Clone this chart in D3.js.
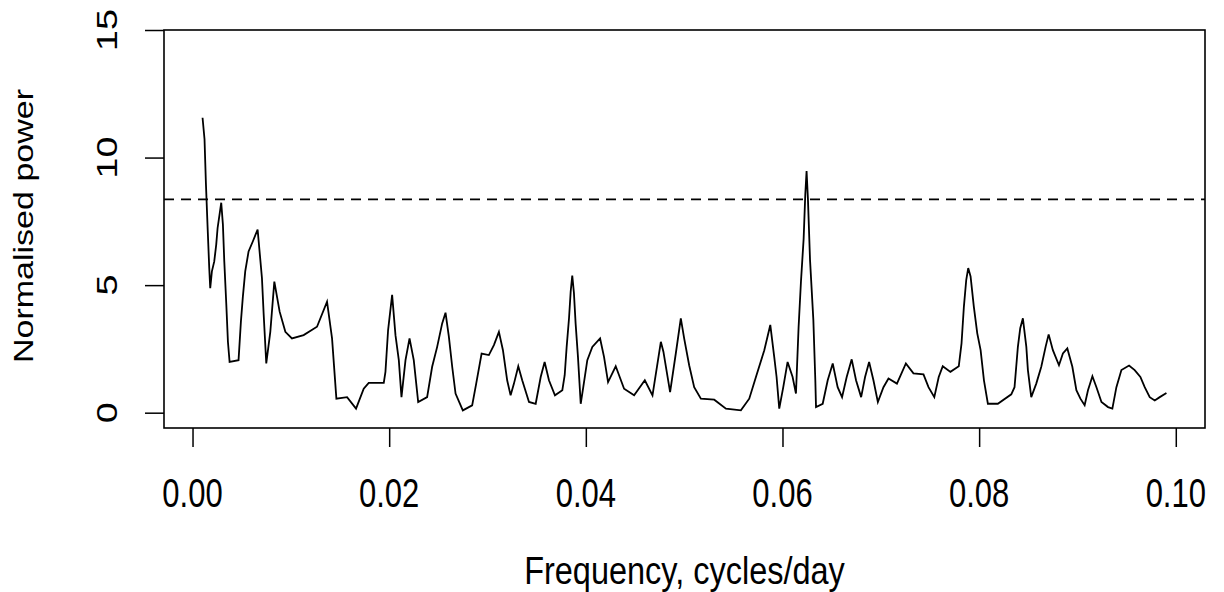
<!DOCTYPE html>
<html>
<head>
<meta charset="utf-8">
<script src="https://cdn.jsdelivr.net/npm/d3@7"></script>
<style>
    body { margin: 0; background: #fff; }
    text { font-family: "Liberation Sans", Arial, sans-serif; fill: #000; }
</style>
</head>
<body>
<div id="chart"></div>
<script>

// periodogram values
const freq = [
    0.00102, 0.00122, 0.00136, 0.00153, 0.00170, 0.00180, 0.00197, 0.00221, 0.00241, 0.00255,
    0.00275, 0.00292, 0.00309, 0.00323, 0.00343, 0.00360, 0.00377, 0.00468, 0.00492, 0.00512,
    0.00536, 0.00570, 0.00614, 0.00662, 0.00706, 0.00723, 0.00750, 0.00791, 0.00832, 0.00886,
    0.00944, 0.01011, 0.01130, 0.01266, 0.01368, 0.01419, 0.01463, 0.01572, 0.01663, 0.01741,
    0.01792, 0.01945, 0.01962, 0.01989, 0.02030, 0.02064, 0.02098, 0.02125, 0.02166, 0.02207,
    0.02250, 0.02295, 0.02386, 0.02437, 0.02488, 0.02539, 0.02573, 0.02607, 0.02641, 0.02675,
    0.02749, 0.02844, 0.02885, 0.02940, 0.03014, 0.03065, 0.03116, 0.03157, 0.03200, 0.03235,
    0.03269, 0.03313, 0.03353, 0.03422, 0.03490, 0.03541, 0.03581, 0.03625, 0.03686, 0.03761,
    0.03785, 0.03805, 0.03829, 0.03846, 0.03862, 0.03879, 0.03896, 0.03920, 0.03948, 0.03974,
    0.04015, 0.04066, 0.04145, 0.04185, 0.04226, 0.04304, 0.04389, 0.04491, 0.04600, 0.04678,
    0.04763, 0.04789, 0.04857, 0.04915, 0.04966, 0.05000, 0.05051, 0.05102, 0.05170, 0.05306,
    0.05425, 0.05577, 0.05662, 0.05730, 0.05815, 0.05876, 0.05916, 0.05940, 0.05967, 0.06008,
    0.06052, 0.06103, 0.06137, 0.06164, 0.06188, 0.06215, 0.06232, 0.06245, 0.06259, 0.06280,
    0.06314, 0.06334, 0.06341, 0.06409, 0.06460, 0.06511, 0.06561, 0.06606, 0.06653, 0.06704,
    0.06748, 0.06800, 0.06840, 0.06881, 0.06925, 0.06970, 0.07027, 0.07078, 0.07164, 0.07255,
    0.07332, 0.07434, 0.07485, 0.07544, 0.07589, 0.07630, 0.07708, 0.07793, 0.07821, 0.07845,
    0.07869, 0.07889, 0.07913, 0.07946, 0.07981, 0.08015, 0.08049, 0.08089, 0.08190, 0.08327,
    0.08360, 0.08394, 0.08418, 0.08445, 0.08480, 0.08496, 0.08530, 0.08581, 0.08632, 0.08676,
    0.08707, 0.08750, 0.08812, 0.08852, 0.08897, 0.08948, 0.08989, 0.09030, 0.09073, 0.09107,
    0.09152, 0.09193, 0.09244, 0.09311, 0.09355, 0.09396, 0.09447, 0.09525, 0.09582, 0.09640,
    0.09684, 0.09735, 0.09786, 0.09837, 0.09905
];
const power = [
    11.56, 10.72, 9.00, 7.30, 5.67, 4.88, 5.54, 5.93, 6.59, 7.24,
    7.77, 8.23, 7.37, 5.93, 4.29, 2.78, 1.99, 2.06, 3.57, 4.55,
    5.54, 6.32, 6.72, 7.18, 5.28, 3.90, 1.93, 3.17, 5.14, 3.96,
    3.17, 2.91, 3.04, 3.37, 4.35, 2.91, 0.55, 0.61, 0.16, 0.94,
    1.17, 1.17, 1.60, 3.24, 4.62, 3.04, 2.06, 0.61, 2.06, 2.91,
    2.06, 0.42, 0.61, 1.80, 2.58, 3.50, 3.92, 2.98, 1.80, 0.75,
    0.09, 0.29, 1.14, 2.32, 2.26, 2.65, 3.17, 2.45, 1.27, 0.68,
    1.14, 1.82, 1.27, 0.42, 0.35, 1.40, 1.99, 1.27, 0.68, 0.88,
    1.47, 2.58, 3.70, 4.75, 5.37, 4.69, 3.50, 2.19, 0.35, 1.00,
    2.06, 2.58, 2.91, 2.19, 1.20, 1.82, 0.94, 0.68, 1.27, 0.68,
    2.78, 2.39, 0.81, 2.32, 3.70, 2.91, 1.86, 1.00, 0.55, 0.51,
    0.16, 0.09, 0.55, 1.40, 2.45, 3.44, 2.19, 1.40, 0.16, 1.00,
    1.99, 1.40, 0.75, 3.37, 5.14, 6.81, 8.56, 9.47, 8.36, 6.00,
    3.63, 1.27, 0.22, 0.35, 1.27, 1.93, 1.00, 0.61, 1.40, 2.09,
    1.27, 0.61, 1.40, 1.99, 1.27, 0.42, 1.00, 1.34, 1.14, 1.93,
    1.54, 1.50, 1.00, 0.61, 1.40, 1.82, 1.60, 1.82, 2.72, 4.16,
    5.21, 5.67, 5.34, 4.16, 3.11, 2.45, 1.27, 0.35, 0.35, 0.72,
    1.00, 2.58, 3.31, 3.70, 2.58, 1.67, 0.61, 1.14, 1.80, 2.58,
    3.07, 2.45, 1.86, 2.32, 2.52, 1.80, 0.88, 0.55, 0.29, 0.88,
    1.43, 1.00, 0.42, 0.22, 0.16, 1.00, 1.67, 1.85, 1.67, 1.40,
    1.00, 0.61, 0.48, 0.61, 0.77
];

// significance level (dashed line)
const threshold = 8.36;

const xTicks = [0, 0.02, 0.04, 0.06, 0.08, 0.10];
const yTicks = [0, 5, 10, 15];

const xLabel = "Frequency, cycles/day";
const yLabel = "Normalised power";

// margin conventions
let margin = {top: 30, right: 19, bottom: 164, left: 164};
let width = 1224 - margin.left - margin.right;
let height = 592 - margin.top - margin.bottom;

// text in the picture is stretched vertically
let textStyle = {
    xTick: {size: 31, stretch: 1.3},
    yTick: {size: 29, stretch: 1.3},
    xTitle: {size: 32.5, stretch: 1.2},
    yTitle: {size: 27, stretch: 1.26}
};

let svg = d3.select("#chart").append("svg")
    .attr("width", 1224)
    .attr("height", 592)
    .append("g")
    .attr("transform", "translate(" + margin.left + "," + margin.top + ")");

// R style 4% padding around the data range
let pad = (d3.max(freq) - d3.min(freq)) * 0.04;
let x = d3.scaleLinear()
    .domain([d3.min(freq) - pad, d3.max(freq) + pad])
    .range([0, width]);

let y = d3.scaleLinear()
    .domain([-0.6, 15])
    .range([height, 0]);

// x axis
let xAxis = svg.append("g")
    .attr("transform", "translate(0," + height + ")")
    .call(d3.axisBottom(x).tickValues(xTicks).tickSize(19).tickFormat(""));
xAxis.select(".domain").remove();
xAxis.selectAll("line").attr("stroke", "#000").attr("stroke-width", 1.5);

svg.selectAll(".xlab")
    .data(xTicks)
    .enter()
    .append("text")
    .attr("class", "xlab")
    .attr("transform", function(d) {
        return "translate(" + x(d) + "," + (height + 79) + ") scale(1," + textStyle.xTick.stretch + ")";
    })
    .attr("text-anchor", "middle")
    .style("font-size", textStyle.xTick.size + "px")
    .text(function(d) { return d3.format(".2f")(d); });

// y axis
let yAxis = svg.append("g")
    .call(d3.axisLeft(y).tickValues(yTicks).tickSize(19).tickFormat(""));
yAxis.select(".domain").remove();
yAxis.selectAll("line").attr("stroke", "#000").attr("stroke-width", 1.5);

svg.selectAll(".ylab")
    .data(yTicks)
    .enter()
    .append("text")
    .attr("class", "ylab")
    .attr("transform", function(d) {
        return "translate(-47," + y(d) + ") scale(1," + textStyle.yTick.stretch + ") rotate(-90)";
    })
    .attr("text-anchor", "middle")
    .style("font-size", textStyle.yTick.size + "px")
    .text(function(d) { return d; });

// axis titles
svg.append("text")
    .attr("transform", "translate(" + width / 2 + "," + (height + 156) + ") scale(1," + textStyle.xTitle.stretch + ")")
    .attr("text-anchor", "middle")
    .style("font-size", textStyle.xTitle.size + "px")
    .text(xLabel);

svg.append("text")
    .attr("transform", "translate(-131," + (height / 2 - 3) + ") scale(1," + textStyle.yTitle.stretch + ") rotate(-90)")
    .attr("text-anchor", "middle")
    .style("font-size", textStyle.yTitle.size + "px")
    .text(yLabel);

// threshold line
svg.append("line")
    .attr("x1", 0)
    .attr("x2", width)
    .attr("y1", y(threshold))
    .attr("y2", y(threshold))
    .attr("stroke", "#000")
    .attr("stroke-width", 1.7)
    .attr("stroke-dasharray", "10,7");

// periodogram line
let points = freq.map(function(f, i) { return [f, power[i]]; });
svg.append("path")
    .datum(points)
    .attr("fill", "none")
    .attr("stroke", "#000")
    .attr("stroke-width", 1.8)
    .attr("d", d3.line()
        .x(function(d) { return x(d[0]); })
        .y(function(d) { return y(d[1]); }));

// plot box
svg.append("rect")
    .attr("x", 0)
    .attr("y", 0)
    .attr("width", width)
    .attr("height", height)
    .attr("fill", "none")
    .attr("stroke", "#000")
    .attr("stroke-width", 1.6);

</script>
</body>
</html>
